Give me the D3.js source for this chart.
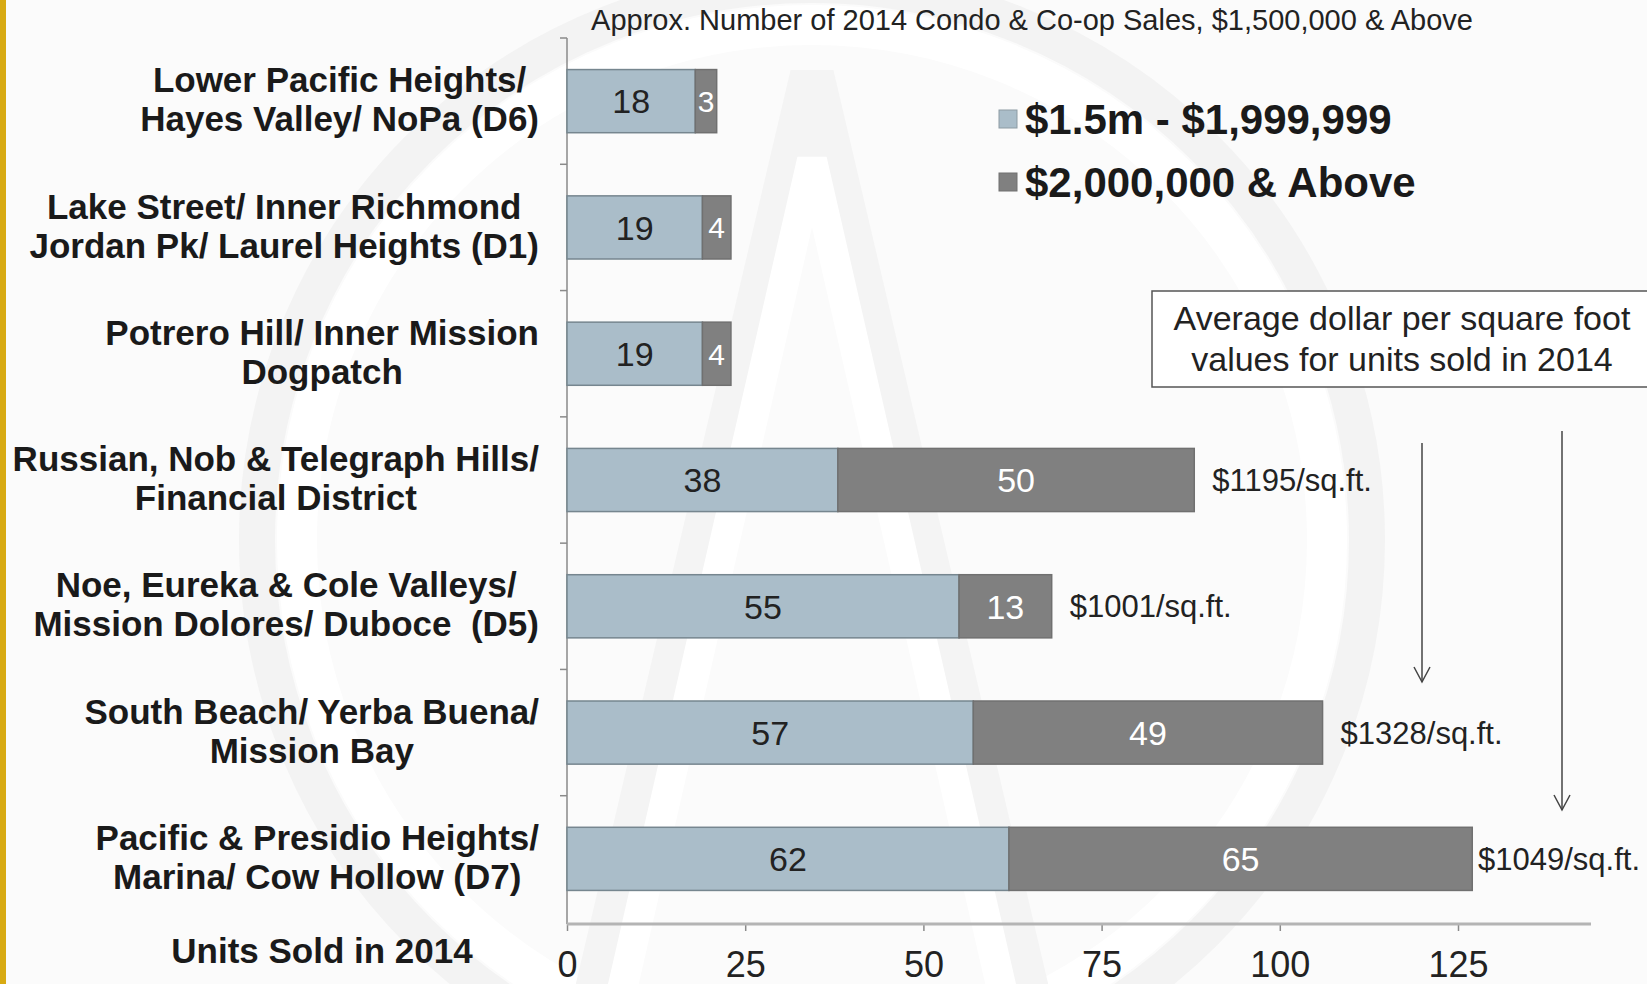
<!DOCTYPE html>
<html>
<head>
<meta charset="utf-8">
<script src="https://cdn.jsdelivr.net/npm/d3@7"></script>
<style>
  body { margin: 0; background: #fff; }
  svg { display: block; }
  text { font-family: 'Liberation Sans', Arial, sans-serif; }
</style>
</head>
<body>
<svg class="chart"></svg>
<script>
// chart size
const w = 1647
const h = 984

// data
const categories = [
  'Lower Pacific Heights/|Hayes Valley/ NoPa (D6)',
  'Lake Street/ Inner Richmond|Jordan Pk/ Laurel Heights (D1)',
  'Potrero Hill/ Inner Mission|Dogpatch',
  'Russian, Nob & Telegraph Hills/|Financial District',
  'Noe, Eureka & Cole Valleys/|Mission Dolores/ Duboce  (D5)',
  'South Beach/ Yerba Buena/|Mission Bay',
  'Pacific & Presidio Heights/|Marina/ Cow Hollow (D7)'
]
const under2m = [18, 19, 19, 38, 55, 57, 62]
const over2m = [3, 4, 4, 50, 13, 49, 65]
const pricePerSqft = [null, null, null, '$1195/sq.ft.', '$1001/sq.ft.', '$1328/sq.ft.', '$1049/sq.ft.']
const seriesNames = ['$1.5m - $1,999,999', '$2,000,000 & Above']
const xTicks = [0, 25, 50, 75, 100, 125]

const colors = ['#aabdc9', '#808080']

const svg = d3.select('.chart')
    .attr('width', w)
    .attr('height', h)

// background and faint watermark (ring and "A")
svg.append('rect')
    .attr('width', w)
    .attr('height', h)
    .attr('fill', '#fbfbfb')
const wm = svg.append('g').attr('transform', 'translate(812, 540)')
wm.append('circle')
    .attr('r', 555)
    .attr('fill', 'none')
    .attr('stroke', '#f3f3f3')
    .attr('stroke-width', 36)
wm.append('circle')
    .attr('r', 515)
    .attr('fill', 'none')
    .attr('stroke', '#ffffff')
    .attr('stroke-width', 40)
wm.append('path')
    .attr('d', 'M -215 450 L 0 -465 L 215 450')
    .attr('fill', 'none')
    .attr('stroke', '#f4f4f4')
    .attr('stroke-width', 44)
wm.append('path')
    .attr('d', 'M -190 450 L 0 -380 L 190 450')
    .attr('fill', 'none')
    .attr('stroke', '#ffffff')
    .attr('stroke-width', 30)

// yellow stripe on the left
svg.append('rect')
    .attr('width', 6)
    .attr('height', h)
    .attr('fill', '#d8aa12')

// scales
const x = d3.scaleLinear()
    .domain([0, 125])
    .range([567, 1458])

const y = d3.scaleBand()
    .domain(d3.range(categories.length))
    .range([38, 922])
    .paddingInner(0.5)
    .paddingOuter(0.25)

// title
svg.append('text')
    .attr('x', 1032)
    .attr('y', 30)
    .attr('text-anchor', 'middle')
    .attr('font-size', 29)
    .attr('fill', '#222')
    .text('Approx. Number of 2014 Condo & Co-op Sales, $1,500,000 & Above')

// y axis: line with ticks between the bands
const step = y.step()
const yAxis = svg.append('g')
yAxis.append('line')
    .attr('x1', x(0)).attr('x2', x(0))
    .attr('y1', 38).attr('y2', 924)
    .attr('stroke', '#8a8a8a')
    .attr('stroke-width', 1.5)
yAxis.selectAll('.ytick').data(d3.range(categories.length))
  .enter().append('line')
    .attr('x1', x(0) - 7).attr('x2', x(0))
    .attr('y1', d => y(d) - step * 0.25)
    .attr('y2', d => y(d) - step * 0.25)
    .attr('stroke', '#8a8a8a')
    .attr('stroke-width', 1.5)

// x axis
const xAxis = svg.append('g')
    .attr('transform', 'translate(0, 924)')
    .call(d3.axisBottom(x).tickValues(xTicks).tickSize(7).tickSizeOuter(0))
xAxis.select('.domain').remove()
xAxis.append('line')
    .attr('x1', x(0)).attr('x2', 1591)
    .attr('stroke', '#b4b4b4')
    .attr('stroke-width', 3)
xAxis.selectAll('.tick line').attr('stroke', '#8a8a8a').attr('stroke-width', 1.5)
xAxis.selectAll('.tick text')
    .attr('font-family', "'Liberation Sans', Arial, sans-serif")
    .attr('font-size', 36)
    .attr('fill', '#222')
    .attr('y', 27)

svg.append('text')
    .attr('x', 322)
    .attr('y', 963)
    .attr('text-anchor', 'middle')
    .attr('font-size', 35)
    .attr('font-weight', 'bold')
    .attr('fill', '#1a1a1a')
    .text('Units Sold in 2014')

// stacked bars
const rows = categories.map((c, i) => ({ i, a: under2m[i], b: over2m[i] }))
const bars = svg.append('g')
bars.selectAll('.seg-a').data(rows)
  .enter().append('rect')
    .attr('x', x(0))
    .attr('y', d => y(d.i))
    .attr('width', d => x(d.a) - x(0))
    .attr('height', y.bandwidth())
    .attr('fill', colors[0])
    .attr('stroke', '#76868f')
    .attr('stroke-width', 1.5)
bars.selectAll('.seg-b').data(rows)
  .enter().append('rect')
    .attr('x', d => x(d.a))
    .attr('y', d => y(d.i))
    .attr('width', d => x(d.a + d.b) - x(d.a))
    .attr('height', y.bandwidth())
    .attr('fill', colors[1])
    .attr('stroke', '#707070')
    .attr('stroke-width', 1.5)

// values inside the segments
bars.selectAll('.lab-a').data(rows)
  .enter().append('text')
    .attr('x', d => (x(0) + x(d.a)) / 2)
    .attr('y', d => y(d.i) + y.bandwidth() / 2)
    .attr('dy', '0.36em')
    .attr('text-anchor', 'middle')
    .attr('font-size', 34)
    .attr('fill', '#222')
    .text(d => d.a)
bars.selectAll('.lab-b').data(rows)
  .enter().append('text')
    .attr('x', d => (x(d.a) + x(d.a + d.b)) / 2)
    .attr('y', d => y(d.i) + y.bandwidth() / 2)
    .attr('dy', '0.36em')
    .attr('text-anchor', 'middle')
    .attr('font-size', d => d.b < 10 ? 30 : 34)
    .attr('fill', '#fff')
    .text(d => d.b)

// dollar per square foot labels at the end of the bars
bars.selectAll('.psf').data(rows.filter(d => pricePerSqft[d.i]))
  .enter().append('text')
    .attr('y', d => y(d.i) + y.bandwidth() / 2)
    .attr('dy', '0.36em')
    .attr('font-size', 31)
    .attr('fill', '#222')
    .text(d => pricePerSqft[d.i])
    .attr('x', function (d) {
      const tw = this.getComputedTextLength()
      return Math.min(x(d.a + d.b) + 18, 1640 - tw)
    })

// category labels: lines centred, block right aligned to the axis
const labels = svg.append('g')
categories.forEach((c, i) => {
  const lines = c.split('|')
  const g = labels.append('g')
  const texts = g.selectAll('text').data(lines)
    .enter().append('text')
      .attr('y', (d, j) => y(i) + y.bandwidth() / 2 - 2 + (j - (lines.length - 1) / 2) * 39)
      .attr('dy', '0.36em')
      .attr('text-anchor', 'middle')
      .attr('font-size', 35)
      .attr('font-weight', 'bold')
      .attr('fill', '#1a1a1a')
      .style('white-space', 'pre')
      .text(d => d)
  let maxW = 0
  texts.each(function () { maxW = Math.max(maxW, this.getComputedTextLength()) })
  texts.attr('x', 539 - maxW / 2)
})

// legend
const legend = svg.append('g')
seriesNames.forEach((s, i) => {
  const ly = 119 + i * 63
  legend.append('rect')
      .attr('x', 999)
      .attr('y', ly - 9)
      .attr('width', 18)
      .attr('height', 18)
      .attr('fill', colors[i])
      .attr('stroke', i === 0 ? '#8d9ba3' : '#707070')
  legend.append('text')
      .attr('x', 1025)
      .attr('y', ly)
      .attr('dy', '0.36em')
      .attr('font-size', 42)
      .attr('font-weight', 'bold')
      .attr('fill', '#1a1a1a')
      .text(s)
})

// note box and arrows
svg.append('rect')
    .attr('x', 1152)
    .attr('y', 291)
    .attr('width', 520)
    .attr('height', 96)
    .attr('fill', '#fff')
    .attr('stroke', '#555')
    .attr('stroke-width', 1.5)
const note = ['Average dollar per square foot', 'values for units sold in 2014']
svg.selectAll('.note').data(note)
  .enter().append('text')
    .attr('x', 1402)
    .attr('y', (d, i) => 318 + i * 41)
    .attr('dy', '0.36em')
    .attr('text-anchor', 'middle')
    .attr('font-size', 34)
    .attr('fill', '#222')
    .text(d => d)

const arrows = [[1422, 443, 682], [1562, 431, 810]]
arrows.forEach(a => {
  const g = svg.append('g').attr('stroke', '#444').attr('stroke-width', 1.5).attr('fill', 'none')
  g.append('line').attr('x1', a[0]).attr('x2', a[0]).attr('y1', a[1]).attr('y2', a[2])
  g.append('path').attr('d', `M ${a[0] - 8} ${a[2] - 15} L ${a[0]} ${a[2]} L ${a[0] + 8} ${a[2] - 15}`)
})
</script>
</body>
</html>
